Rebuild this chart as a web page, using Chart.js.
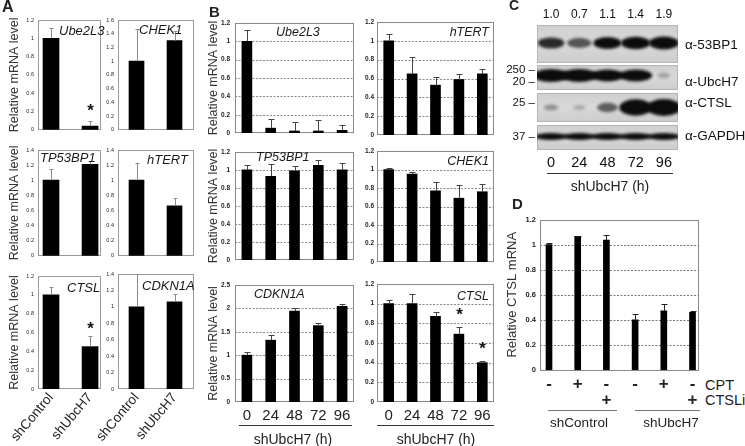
<!DOCTYPE html>
<html><head><meta charset="utf-8">
<script src="https://cdn.jsdelivr.net/npm/chart.js@4.4.1/dist/chart.umd.min.js"></script>
<style>
body{margin:0;background:#fff;width:745px;height:446px;overflow:hidden;position:relative;font-family:"Liberation Sans",Arial,sans-serif;color:#222}
canvas{position:absolute}
.t{position:absolute;white-space:nowrap;line-height:1}
.ln{position:absolute;height:1px;background:#444}
</style></head><body>
<script>
// ---------- DATA ----------
// Panel A
const A_groups = ['shControl', 'shUbcH7'];
const A_ube2l3 = [1.0, 0.04],   A_ube2l3_err = [1.11, 0.096], A_ube2l3_sig = [0, 1];
const A_chek1 = [1.0, 1.30],    A_chek1_err = [1.47, 1.44];
const A_tp53bp1 = [1.0, 1.21],  A_tp53bp1_err = [1.15, 1.25];
const A_htert = [1.0, 0.66],    A_htert_err = [1.23, 0.77];
const A_ctsl = [1.0, 0.45],     A_ctsl_err = [1.08, 0.56],    A_ctsl_sig = [0, 1];
const A_cdkn1a = [1.0, 1.06],   A_cdkn1a_err = [1.40, 1.16];
// Panel B
const B_time = ['0', '24', '48', '72', '96'];
const B_ube2l3 = [1.0, 0.054, 0.023, 0.023, 0.03], B_ube2l3_err = [1.12, 0.15, 0.117, 0.14, 0.084];
const B_htert = [1.0, 0.65, 0.53, 0.59, 0.65],     B_htert_err = [1.07, 0.83, 0.62, 0.65, 0.70];
const B_tp53bp1 = [1.0, 0.93, 0.99, 1.05, 1.0],    B_tp53bp1_err = [1.05, 1.07, 1.04, 1.11, 1.08];
const B_chek1 = [1.0, 0.95, 0.77, 0.69, 0.76],     B_chek1_err = [1.02, 0.97, 0.86, 0.83, 0.84];
const B_cdkn1a = [1.0, 1.32, 1.94, 1.63, 2.04],    B_cdkn1a_err = [1.06, 1.43, 2.0, 1.69, 2.09];
const B_ctsl = [1.0, 1.0, 0.87, 0.69, 0.40],       B_ctsl_err = [1.04, 1.10, 0.92, 0.76, 0.42], B_ctsl_sig = [0, 0, 0, 1, 1];
// Panel C (western blot)
const C_lanes = ['0', '24', '48', '72', '96'];
const C_quant = ['1.0', '0.7', '1.1', '1.4', '1.9'];
const C_antibodies = ['α-53BP1', 'α-UbcH7', 'α-CTSL', 'α-GAPDH'];
const C_antibodyPos = [20, 57, 78, 111];
const C_mwLabels = ['250 –', '20 –', '25 –', '37 –'];
const C_mwPos = [45, 57, 78, 112];
const C_53bp1 = [0.7, 0.5, 0.85, 0.92, 1.0];
const C_ubch7 = [1.0, 1.0, 0.85, 0.85, 0.1];
const C_ctsl = [0.2, 0.1, 0.45, 0.95, 1.0];
const C_gapdh = [0.95, 0.95, 0.95, 0.95, 0.95];
// Panel D
const D_cpt = ['-', '+', '-', '-', '+', '-'];
const D_ctsli = ['', '', '+', '', '', '+'];
const D_ctsl = [1.0, 1.066, 1.035, 0.40, 0.472, 0.459];
const D_ctsl_err = [1.015, 1.07, 1.075, 0.443, 0.525, 0.472];

// ---------- HELPERS ----------
const FF = '"Liberation Sans", Arial, sans-serif';
Chart.defaults.font.family = FF;
Chart.defaults.color = '#222';
Chart.defaults.animation = false;
const fmt = v => String(Number((+v).toFixed(2)));

const deco = {
  id: 'deco',
  beforeDatasetsDraw(chart, args, o) {
    const {ctx, chartArea: a} = chart; const ys = chart.scales.y;
    ctx.save();
    if (o.grid) {
      ctx.strokeStyle = o.grid; ctx.lineWidth = 0.8; ctx.setLineDash([2, 1.5]);
      ys.ticks.forEach(t => {
        const y = Math.round(ys.getPixelForValue(t.value)) + 0.5;
        if (y > a.top + 1.5 && y < a.bottom - 1.5) { ctx.beginPath(); ctx.moveTo(a.left, y); ctx.lineTo(a.right, y); ctx.stroke(); }
      });
      ctx.setLineDash([]);
    }
    if (o.frame) {
      ctx.strokeStyle = o.frame; ctx.lineWidth = 1;
      ctx.strokeRect(Math.round(a.left) + 0.5, Math.round(a.top) + 0.5, Math.round(a.right - a.left) - 1, Math.round(a.bottom - a.top) - 1);
    }
    ctx.restore();
  },
  afterDatasetsDraw(chart, args, o) {
    const {ctx} = chart; const ys = chart.scales.y;
    ctx.save();
    chart.data.datasets.forEach((ds, di) => {
      const meta = chart.getDatasetMeta(di);
      meta.data.forEach((bar, i) => {
        if (ds.errTop) {
          const top = Math.round(ys.getPixelForValue(ds.errTop[i])) + 0.5;
          const x = Math.round(bar.x) + 0.5;
          ctx.strokeStyle = o.errColor; ctx.lineWidth = 1;
          ctx.beginPath(); ctx.moveTo(x, bar.y); ctx.lineTo(x, top);
          ctx.moveTo(x - o.cap, top); ctx.lineTo(x + o.cap, top); ctx.stroke();
          if (ds.sig && ds.sig[i]) {
            ctx.fillStyle = '#111'; ctx.font = 'bold 17px ' + FF; ctx.textAlign = 'center'; ctx.textBaseline = 'middle';
            ctx.fillText('*', x, top - o.starGap);
          }
        }
      });
    });
    if (o.label) {
      ctx.fillStyle = '#1a1a1a'; ctx.font = o.labelFont; ctx.textAlign = o.labelAlign; ctx.textBaseline = 'middle';
      ctx.fillText(o.label, o.lx, o.ly);
    }
    ctx.restore();
  }
};

function mk(c) {
  const cv = document.createElement('canvas');
  const cl = c.L - c.W, ct = c.T - c.padT;
  const w = c.R - cl + c.padR, h = c.B - ct + c.H;
  cv.width = w; cv.height = h; cv.style.left = cl + 'px'; cv.style.top = ct + 'px';
  document.body.appendChild(cv);
  new Chart(cv, {
    type: 'bar',
    data: { datasets: [{ data: c.data.map((v, i) => ({x: i, y: v})), errTop: c.err, sig: c.sig,
      backgroundColor: '#000', borderWidth: 0, barThickness: c.barW }] },
    options: {
      responsive: false, devicePixelRatio: 1, animation: false, events: [],
      layout: { padding: {top: c.padT, right: c.padR, bottom: 0, left: 0}, autoPadding: false },
      plugins: { legend: {display: false}, tooltip: {enabled: false},
        deco: { grid: c.grid, frame: c.frame, errColor: c.errColor, cap: c.cap, starGap: c.starGap || 10,
          label: c.label, labelFont: c.labelFont, labelAlign: c.labelAlign || 'left',
          lx: c.lx - cl, ly: c.ly - ct } },
      scales: {
        x: { type: 'linear', min: c.xmin, max: c.xmax, offset: false,
          grid: {display: false, drawTicks: false}, border: {display: false},
          afterBuildTicks: s => { s.ticks = c.labels.map((_, i) => ({value: i})); },
          afterFit: s => { s.height = c.H; },
          ticks: { display: !!c.showX, autoSkip: false, maxRotation: c.rot || 0, minRotation: c.rot || 0,
            padding: c.xpad || 0, font: c.xfont, color: '#222', callback: (v) => c.labels[Math.round(v)] } },
        y: { min: 0, max: c.ymax, grid: {display: false, drawTicks: false}, border: {display: false},
          afterFit: s => { s.width = c.W; },
          ticks: { stepSize: c.step, padding: c.ypad, font: c.yfont, color: '#222', callback: v => fmt(v) },
          title: { display: !!c.title, text: c.title, font: c.tfont, color: '#333', padding: {top: c.tpad || 0, bottom: 0} } }
      }
    },
    plugins: [deco]
  });
}

function txt(s, x, y, css, align) {
  const d = document.createElement('div'); d.className = 't'; d.textContent = s;
  d.style.cssText += css; d.style.left = x + 'px'; d.style.top = y + 'px';
  d.style.transform = align === 'l' ? 'translate(0,-50%)' : align === 'r' ? 'translate(-100%,-50%)' : 'translate(-50%,-50%)';
  document.body.appendChild(d);
}
function line(x1, x2, y, color) {
  const d = document.createElement('div'); d.className = 'ln';
  d.style.left = x1 + 'px'; d.style.top = y + 'px'; d.style.width = (x2 - x1) + 'px'; if (color) d.style.background = color;
  document.body.appendChild(d);
}

// ---------- PANEL A ----------
const Atitle = 'Relative mRNA level';
const Abase = { labels: A_groups, barW: 16, padT: 8, padR: 6, frame: '#9a9a9a', errColor: '#8a8a8a', cap: 2,
  yfont: {size: 5.5}, ypad: 4, step: 0.2, tfont: {size: 12.5}, labelFont: 'italic 13px ' + FF,
  xfont: {size: 13.5}, rot: 50, xpad: 1 };
const AL = { L: 38, R: 101, W: 38, xmin: -0.333, xmax: 1.28, title: Atitle, tpad: 7.5 };
const AR = { L: 118, R: 194, W: 30, xmin: -0.487, xmax: 1.513, barW: 15 };
mk({...Abase, ...AL, T: 20, B: 137, H: 0, ymax: 1.2, data: A_ube2l3, err: A_ube2l3_err, sig: A_ube2l3_sig, starGap: 10,
  label: 'Ube2L3', lx: 59, ly: 31});
mk({...Abase, ...AR, T: 20, B: 137, H: 0, ymax: 1.6, data: A_chek1, err: A_chek1_err,
  label: 'CHEK1', lx: 139, ly: 30});
mk({...Abase, ...AL, T: 150, B: 263, H: 0, ymax: 1.4, data: A_tp53bp1, err: A_tp53bp1_err,
  label: 'TP53BP1', lx: 40, ly: 158});
mk({...Abase, ...AR, T: 150, B: 263, H: 0, ymax: 1.4, data: A_htert, err: A_htert_err,
  label: 'hTERT', lx: 147, ly: 160});
mk({...Abase, ...AL, T: 276, B: 389, H: 57, showX: true, ymax: 1.2, data: A_ctsl, err: A_ctsl_err, sig: A_ctsl_sig, starGap: 7,
  label: 'CTSL', lx: 67, ly: 288});
mk({...Abase, ...AR, T: 274, B: 389, H: 57, showX: true, ymax: 1.4, data: A_cdkn1a, err: A_cdkn1a_err,
  label: 'CDKN1A', lx: 142, ly: 286});

// ---------- PANEL B ----------
const Bbase = { labels: B_time, barW: 10, padT: 8, padR: 4, frame: '#8a8a8a', grid: '#6a6a6a', errColor: '#444', cap: 3,
  yfont: {size: 6.5, weight: 'bold'}, step: 0.2, tfont: {size: 12.5}, labelFont: 'italic 12.5px ' + FF,
  xmin: -0.5, xmax: 4.5, xfont: {size: 15}, xpad: 5, starGap: 12 };
const BL = { L: 235, R: 354, W: 35, ypad: 5, title: Atitle, tpad: 6.5, labelAlign: 'left' };
const BR = { L: 377, R: 494, W: 25, ypad: 3, labelAlign: 'right' };
mk({...Bbase, ...BL, T: 22, B: 142, H: 0, ymax: 1.2, data: B_ube2l3, err: B_ube2l3_err, label: 'Ube2L3', lx: 276, ly: 33});
mk({...Bbase, ...BR, T: 22, B: 142, H: 0, ymax: 1.2, data: B_htert, err: B_htert_err, label: 'hTERT', lx: 489, ly: 33});
mk({...Bbase, ...BL, T: 151, B: 269, H: 0, ymax: 1.2, data: B_tp53bp1, err: B_tp53bp1_err, label: 'TP53BP1', lx: 256, ly: 158});
mk({...Bbase, ...BR, T: 151, B: 269, H: 0, ymax: 1.2, data: B_chek1, err: B_chek1_err, label: 'CHEK1', lx: 489, ly: 162});
mk({...Bbase, ...BL, T: 284, B: 402, H: 26, showX: true, ymax: 2.5, step: 0.5, data: B_cdkn1a, err: B_cdkn1a_err,
  label: 'CDKN1A', lx: 254, ly: 295});
mk({...Bbase, ...BR, T: 284, B: 402, H: 26, showX: true, ymax: 1.2, data: B_ctsl, err: B_ctsl_err, sig: B_ctsl_sig,
  label: 'CTSL', lx: 489, ly: 297});
line(239, 352, 425, '#333'); line(377, 494, 425, '#333');
txt('shUbcH7 (h)', 293, 439, 'font-size:14px;', 'c');
txt('shUbcH7 (h)', 436, 439, 'font-size:14px;', 'c');

// ---------- PANEL C (blot) ----------
const C_strips = [
  { name: 'α-53BP1', v: C_53bp1, top: 0, bot: 38, w0: 18, w1: 12, h0: 7, h1: 6, dy: -1 },
  { name: 'α-UbcH7', v: C_ubch7, top: 40, bot: 65, w0: 10, w1: 27, h0: 5, h1: 8, dy: -2 },
  { name: 'α-CTSL',  v: C_ctsl,  top: 68, bot: 97, w0: 10, w1: 24, h0: 3, h1: 14, dy: 0 },
  { name: 'α-GAPDH', v: C_gapdh, top: 100, bot: 125, w0: 32, w1: 0, h0: 7, h1: 0, dy: -1 }
];
const blot = {
  id: 'blot',
  beforeDatasetsDraw(chart) {
    const {ctx, chartArea: a, scales} = chart; const xs = scales.x, ys = scales.y;
    ctx.save();
    C_strips.forEach((s, si) => {
      const y0 = ys.getPixelForValue(s.top), y1 = ys.getPixelForValue(s.bot);
      const g = ctx.createLinearGradient(0, y0, 0, y1);
      g.addColorStop(0, '#cfcfcf'); g.addColorStop(0.5, '#d9d9d9'); g.addColorStop(1, '#cccccc');
      ctx.fillStyle = g; ctx.fillRect(a.left, y0, a.right - a.left, y1 - y0);
      ctx.strokeStyle = '#b5b5b5'; ctx.lineWidth = 1; ctx.strokeRect(a.left + 0.5, y0 + 0.5, a.right - a.left - 1, y1 - y0 - 1);
      ctx.save();
      ctx.beginPath(); ctx.rect(a.left, y0, a.right - a.left, y1 - y0); ctx.clip();
      ctx.filter = 'blur(1.4px)';
      const ds = chart.data.datasets[si].data;
      ds.forEach((v, i) => {
        const x = xs.getPixelForValue(i);
        const yc = (y0 + y1) / 2 + s.dy;
        const w = s.w0 + s.w1 * v, h = s.h0 + s.h1 * v;
        ctx.fillStyle = 'rgba(12,12,12,' + Math.min(1, 0.15 + v) + ')';
        ctx.beginPath(); ctx.ellipse(x, yc, w / 2, h / 2, 0, 0, Math.PI * 2); ctx.fill();
      });
      ctx.restore();
    });
    ctx.restore();
  }
};
(function () {
  const cv = document.createElement('canvas');
  cv.width = 250; cv.height = 167; cv.style.left = '495px'; cv.style.top = '5px';
  document.body.appendChild(cv);
  new Chart(cv, {
    type: 'bar',
    data: { labels: C_lanes, datasets: C_strips.map(s => ({ label: s.name, data: s.v, backgroundColor: 'rgba(0,0,0,0)' })) },
    options: {
      responsive: false, devicePixelRatio: 1, animation: false, events: [],
      layout: { padding: 0, autoPadding: false },
      plugins: { legend: {display: false}, tooltip: {enabled: false} },
      scales: {
        x: { type: 'category', position: 'bottom', offset: true, grid: {display: false, drawTicks: false}, border: {display: false},
          ticks: { font: {size: 14.5}, padding: 4, color: '#111' }, afterFit: s => { s.height = 22; } },
        x2: { type: 'category', labels: C_quant, position: 'top', offset: true, grid: {display: false, drawTicks: false}, border: {display: false},
          ticks: { font: {size: 12}, padding: 3, color: '#111' }, afterFit: s => { s.height = 20; } },
        y: { type: 'linear', position: 'left', min: 0, max: 125, reverse: true, grid: {display: false, drawTicks: false}, border: {display: false},
          afterBuildTicks: s => { s.ticks = C_mwPos.map(v => ({value: v})); },
          ticks: { font: {size: 11.5}, padding: 2, color: '#111', callback: (v, i) => C_mwLabels[i] }, afterFit: s => { s.width = 42; } },
        y2: { type: 'linear', position: 'right', min: 0, max: 125, reverse: true, grid: {display: false, drawTicks: false}, border: {display: false},
          afterBuildTicks: s => { s.ticks = C_antibodyPos.map(v => ({value: v})); },
          ticks: { font: {size: 13.5}, padding: 7, color: '#111', callback: (v, i) => C_antibodies[i] }, afterFit: s => { s.width = 67; } }
      }
    },
    plugins: [blot]
  });
})();
line(547, 673, 173, '#333');
txt('shUbcH7 (h)', 610, 186, 'font-size:14px;', 'c');

// ---------- PANEL D ----------
mk({ labels: D_cpt.map((c, i) => [c, D_ctsli[i]]), barW: 6, padT: 8, padR: 6, frame: '#8a8a8a', grid: '#555', errColor: '#222', cap: 3,
  L: 540, R: 699, T: 219, B: 370, W: 40, H: 45, showX: true, xmin: -0.314, xmax: 5.226,
  ymax: 1.2, step: 0.2, yfont: {size: 7.5, weight: 'bold'}, ypad: 4,
  title: 'Relative CTSL mRNA', tfont: {size: 13}, tpad: 5,
  xfont: {size: 17, weight: 'bold', lineHeight: 0.9}, xpad: 7,
  data: D_ctsl, err: D_ctsl_err });
txt('CPT', 705, 385, 'font-size:14.5px;', 'l');
txt('CTSLi', 705, 400, 'font-size:14.5px;', 'l');
line(548, 617, 410, '#777'); line(635, 700, 410, '#777');
txt('shControl', 579, 423, 'font-size:13.5px;', 'c');
txt('shUbcH7', 671, 423, 'font-size:13.5px;', 'c');

// ---------- PANEL LETTERS ----------
txt('A', 2, 7, 'font-size:16px;font-weight:bold;', 'l');
txt('B', 209, 11, 'font-size:15px;font-weight:bold;', 'l');
txt('C', 509, 5, 'font-size:14px;font-weight:bold;', 'l');
txt('D', 512, 203, 'font-size:15px;font-weight:bold;', 'l');
</script>
</body></html>
